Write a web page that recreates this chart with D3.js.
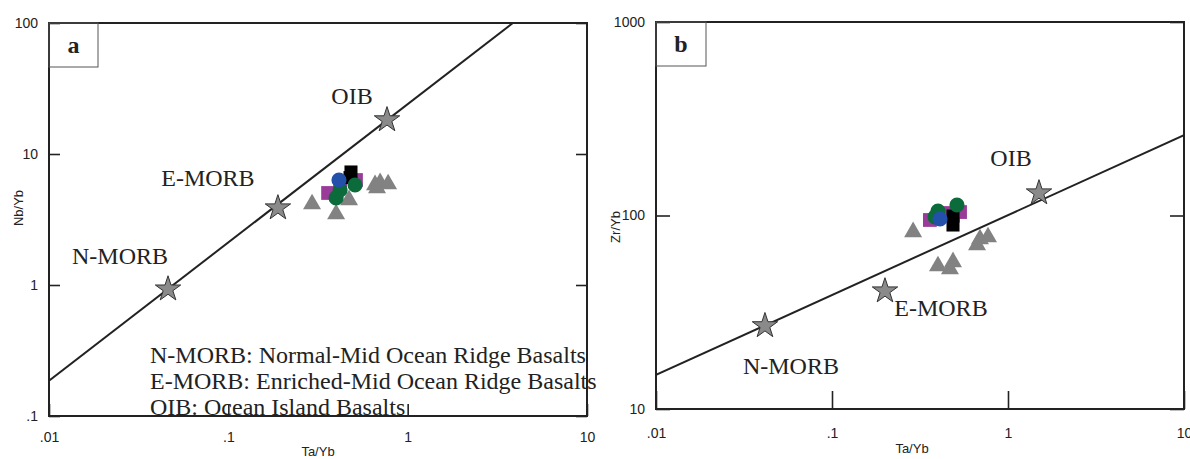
<!DOCTYPE html>
<html>
<head>
<meta charset="utf-8">
<script src="https://cdn.jsdelivr.net/npm/d3@7"></script>
<style>
body { margin: 0; background: #fff; }
text { fill: #222; }
</style>
</head>
<body>
<svg id="vis" width="1190" height="459"></svg>
<script>
var vis = d3.select("#vis");

// panel a: Nb/Yb vs Ta/Yb
var aTriangles = [[0.293, 4.15], [0.399, 3.48], [0.471, 4.46], [0.658, 5.8], [0.702, 6.01], [0.778, 5.9], [0.675, 5.5]];
var aPurple = [[0.36, 5.04], [0.515, 6.33], [0.42, 5.7]];
var aBlack = [[0.483, 7.29], [0.477, 6.6]];
var aGreen = [[0.509, 5.8], [0.42, 5.31], [0.399, 4.62]];
var aBlue = [[0.414, 6.33]];
var aStars = [["N-MORB", 0.0461, 0.93], ["E-MORB", 0.189, 3.87], ["OIB", 0.767, 18.2]];
var aLine = [[0.01, 0.186], [3.86, 100]];
var aYTicks = [0.1, 1, 10, 100];
var aYLabels = [".1", "1", "10", "100"];

// panel b: Zr/Yb vs Ta/Yb
var bTriangles = [[0.289, 82.2], [0.40, 54.8], [0.487, 57.5], [0.468, 52.9], [0.693, 75.6], [0.77, 77.4], [0.667, 70.4]];
var bPurple = [[0.36, 94.8], [0.534, 104.2], [0.439, 103]];
var bBlack = [[0.487, 99.4], [0.487, 89.3]];
var bGreen = [[0.40, 105.5], [0.513, 113.3], [0.385, 98.3]];
var bBlue = [[0.411, 95.9]];
var bStars = [["N-MORB", 0.0416, 26.9], ["E-MORB", 0.2, 40.7], ["OIB", 1.5, 130.7]];
var bLine = [[0.01, 15], [10, 260]];
var bYTicks = [10, 100, 1000];
var bYLabels = ["10", "100", "1000"];

var xTicks = [0.01, 0.1, 1, 10];
var xLabels = [".01", ".1", "1", "10"];
var notes = ["N-MORB: Normal-Mid Ocean Ridge Basalts",
             "E-MORB: Enriched-Mid Ocean Ridge Basalts",
             "OIB: Ocean Island Basalts"];

var serif = "'Liberation Serif', 'Times New Roman', serif";
var sans = "'Liberation Sans', Arial, sans-serif";

function drawPanel(p) {
    var g = vis.append("g").attr("transform", `translate(${p.left} ${p.top})`);
    var x = d3.scaleLog().domain([0.01, 10]).range([0, p.w]);
    var y = d3.scaleLog().domain(p.yDomain).range([p.h, 0]);

    g.append("clipPath").attr("id", "clip" + p.name)
        .append("rect").attr("width", p.w).attr("height", p.h);

    // axes (ticks point inward)
    var fmtX = d => xLabels[xTicks.indexOf(d)];
    var fmtY = d => p.yLabels[p.yTicks.indexOf(d)];
    g.append("g").attr("transform", `translate(0 ${p.h})`)
        .call(d3.axisBottom(x).tickValues(xTicks).tickFormat(fmtX)
            .tickSize(-p.tickX).tickPadding(p.padX));
    g.append("g")
        .call(d3.axisLeft(y).tickValues(p.yTicks).tickFormat(fmtY)
            .tickSize(-p.tickY).tickPadding(11));
    g.append("g").attr("transform", `translate(${p.w} 0)`)
        .call(d3.axisRight(y).tickValues(p.yTicks).tickFormat("").tickSize(-p.tickY));
    g.selectAll(".domain").remove();
    g.selectAll(".tick line").attr("stroke", "#222").attr("stroke-width", 1.6);
    g.selectAll(".tick text").attr("font-family", sans).attr("font-size", 14).attr("fill", "#222");

    // frame
    g.append("rect").attr("width", p.w).attr("height", p.h)
        .attr("fill", "none").attr("stroke", "#222").attr("stroke-width", 2);

    // panel letter box
    g.append("rect").attr("width", p.boxW).attr("height", 44)
        .attr("fill", "none").attr("stroke", "#555").attr("stroke-width", 1);
    g.append("text").attr("x", p.boxW / 2).attr("y", 22).attr("dy", "0.35em")
        .attr("text-anchor", "middle").attr("font-family", serif)
        .attr("font-weight", "bold").attr("font-size", 24).text(p.name);

    // axis titles
    g.append("text").attr("transform", `translate(${p.yTitleX} ${p.yTitleY}) rotate(-90)`)
        .attr("text-anchor", "middle").attr("dy", "0.35em")
        .attr("font-family", sans).attr("font-size", 13).text(p.yTitle);
    g.append("text").attr("x", p.xTitleX).attr("y", p.xTitleY).attr("dy", "0.35em")
        .attr("text-anchor", "middle")
        .attr("font-family", sans).attr("font-size", 13).text("Ta/Yb");

    // reference line
    g.append("line").attr("clip-path", `url(#clip${p.name})`)
        .attr("x1", x(p.line[0][0])).attr("y1", y(p.line[0][1]))
        .attr("x2", x(p.line[1][0])).attr("y2", y(p.line[1][1]))
        .attr("stroke", "#222").attr("stroke-width", 2);

    // samples
    var sym = (type, size) => d3.symbol().type(type).size(size)();
    function marks(data, type, size, fill) {
        g.append("g").selectAll("path").data(data).join("path")
            .attr("transform", d => `translate(${x(d[0])} ${y(d[1])})`)
            .attr("d", sym(type, size))
            .attr("fill", fill);
    }
    marks(p.tri, d3.symbolTriangle, 140, "#828282");
    marks(p.purple, d3.symbolSquare, 190, "#9a3b9a");
    marks(p.black, d3.symbolSquare, 170, "#000");
    marks(p.green, d3.symbolCircle, 180, "#0c6b3a");
    marks(p.blue, d3.symbolCircle, 180, "#2350a8");

    // end members
    g.append("g").selectAll("path").data(p.stars).join("path")
        .attr("transform", d => `translate(${x(d[1])} ${y(d[2])})`)
        .attr("d", sym(d3.symbolStar, 200))
        .attr("fill", "#8a8a8a").attr("stroke", "#333").attr("stroke-width", 1);
    g.append("g").selectAll("text").data(p.stars).join("text")
        .attr("x", (d, i) => x(d[1]) + p.labelOff[i][0])
        .attr("y", (d, i) => y(d[2]) + p.labelOff[i][1])
        .attr("dy", "0.35em").attr("text-anchor", "middle")
        .attr("font-family", serif).attr("font-size", 24).attr("fill", "#333")
        .text(d => d[0]);
    return g;
}

var ga = drawPanel({
    name: "a", left: 49, top: 23, w: 538, h: 393, yDomain: [0.1, 100],
    yTicks: aYTicks, yLabels: aYLabels, tickX: 12, tickY: 11, padX: 16, boxW: 49,
    yTitle: "Nb/Yb", yTitleX: -31, yTitleY: 185, xTitleX: 269, xTitleY: 428,
    line: aLine, tri: aTriangles, purple: aPurple, black: aBlack, green: aGreen, blue: aBlue,
    stars: aStars, labelOff: [[-48, -34], [-70, -30], [-35, -24]]
});

// abbreviations note in panel a
ga.append("g").selectAll("text").data(notes).join("text")
    .attr("x", 101).attr("y", (d, i) => 340 + i * 26)
    .attr("font-family", serif).attr("font-size", 24).attr("fill", "#333")
    .text(d => d);

drawPanel({
    name: "b", left: 656, top: 22, w: 528, h: 387, yDomain: [10, 1000],
    yTicks: bYTicks, yLabels: bYLabels, tickX: 18, tickY: 14, padX: 19, boxW: 50,
    yTitle: "Zr/Yb", yTitleX: -41, yTitleY: 205, xTitleX: 256, xTitleY: 426,
    line: bLine, tri: bTriangles, purple: bPurple, black: bBlack, green: bGreen, blue: bBlue,
    stars: bStars, labelOff: [[26, 40], [56, 17], [-28, -35]]
});
</script>
</body>
</html>
